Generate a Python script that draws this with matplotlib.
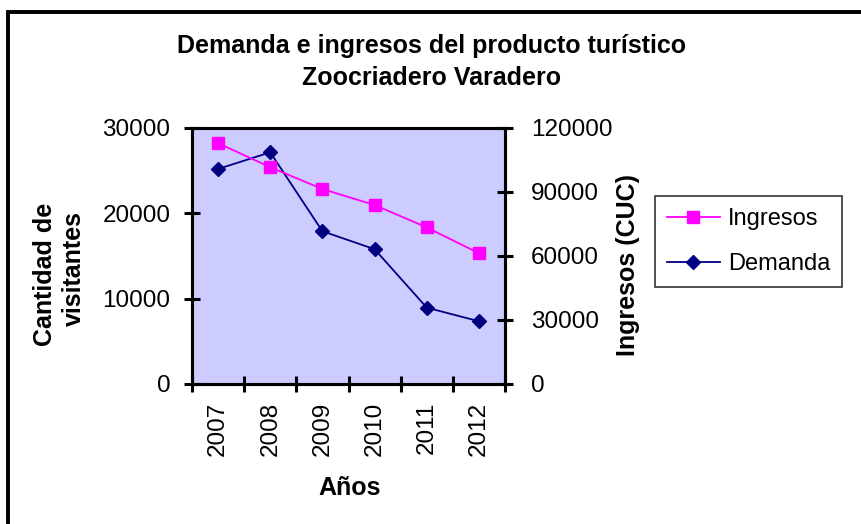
import matplotlib
matplotlib.use("Agg")
import matplotlib.pyplot as plt
from matplotlib.patches import Rectangle
from matplotlib.ticker import FixedLocator

plt.rcParams["font.family"] = ["Liberation Sans", "DejaVu Sans"]

years = ["2007", "2008", "2009", "2010", "2011", "2012"]
demanda = [25200, 27150, 17900, 15800, 8950, 7350]
ingresos = [112900, 101600, 91400, 83900, 73400, 61300]

W, H = 862, 524
fig = plt.figure(figsize=(W / 100, H / 100), dpi=100)

# outer chart frame (cut off at right and bottom like the source)
fig.add_artist(Rectangle((8 / W, -0.1), 1.2, 1.1 - 12 / H, transform=fig.transFigure,
                         fill=False, edgecolor="black", linewidth=2.8, clip_on=False))

ax = fig.add_axes([192 / W, 1 - 384 / H, 313 / W, 256 / H])
ax.set_facecolor("#CCCCFF")
ax2 = ax.twinx()

x = list(range(len(years)))
l1, = ax2.plot(x, ingresos, color="#FF00FF", marker="s", markersize=8.5, linewidth=1.3,
               label="Ingresos")
l2, = ax.plot(x, demanda, color="#000080", marker="D", markersize=7.5, linewidth=1.3,
              label="Demanda")

ax.set_xlim(-0.5, len(years) - 0.5)
ax.set_ylim(0, 30000)
ax2.set_ylim(0, 120000)
ax.set_yticks([0, 10000, 20000, 30000])
ax2.set_yticks([0, 30000, 60000, 90000, 120000])
ax.set_xticks(x)
ax.set_xticklabels(years, rotation=90)
ax.xaxis.set_minor_locator(FixedLocator([i - 0.5 for i in range(len(years) + 1)]))

for a in (ax, ax2):
    for s in a.spines.values():
        s.set_linewidth(2.2)
        s.set_color("black")
ax.tick_params(axis="y", direction="inout", length=11, width=2.2, labelsize=17.5, pad=10)
ax2.tick_params(axis="y", direction="inout", length=11, width=2.2, labelsize=17.5, pad=13)
ax.tick_params(axis="x", which="major", length=0, labelsize=17.5, pad=13)
ax.tick_params(axis="x", which="minor", direction="inout", length=11, width=2.2)

bold = dict(fontsize=18, fontweight="bold", ha="center", va="center")
fig.text(350 / W, 1 - 488 / H, "Años", **bold)
fig.text(45 / W, 1 - 274 / H, "Cantidad de", rotation=90, **bold)
fig.text(74 / W, 1 - 269 / H, "visitantes", rotation=90, **bold)
fig.text(628 / W, 1 - 265 / H, "Ingresos (CUC)", rotation=90, **bold)

fig.text(432 / W, 1 - 53 / H, "Demanda e ingresos del producto turístico",
         ha="center", va="baseline", fontsize=18, fontweight="bold")
fig.text(432 / W, 1 - 85 / H, "Zoocriadero Varadero",
         ha="center", va="baseline", fontsize=18, fontweight="bold")

leg = fig.legend(handles=[l1, l2], loc="upper left", bbox_to_anchor=(655 / W, 1 - 196 / H),
                 frameon=True, fancybox=False, fontsize=17, handlelength=2.25,
                 borderpad=0.5, labelspacing=1.0, handletextpad=0.35, borderaxespad=0)
leg.get_frame().set_edgecolor("black")
leg.get_frame().set_linewidth(1.2)

fig.savefig("out.png", dpi=100)
